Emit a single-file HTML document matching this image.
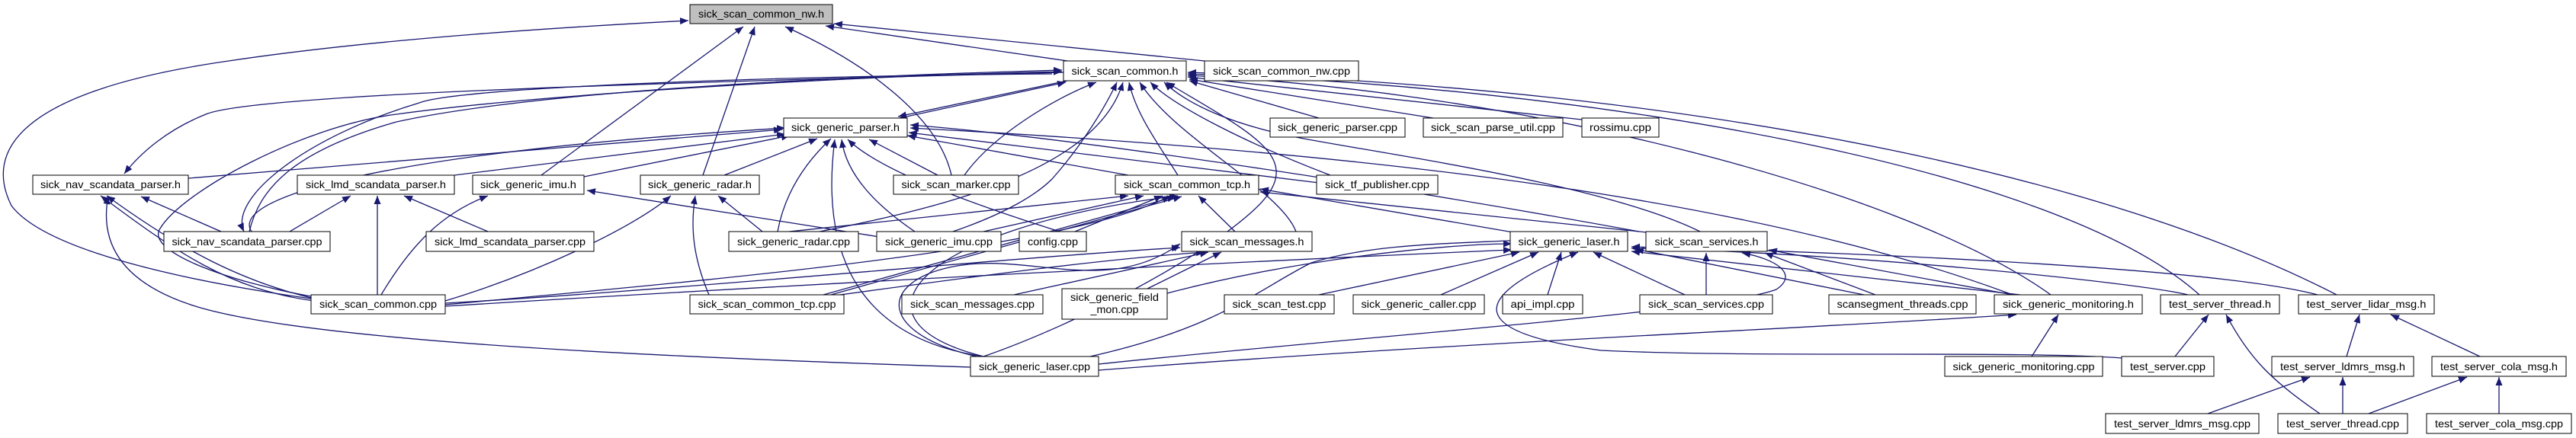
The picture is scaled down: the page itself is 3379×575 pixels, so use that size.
<!DOCTYPE html>
<html><head><meta charset="utf-8"><style>
html,body{margin:0;padding:0;background:#fff;}
svg{display:block;}
text{font-family:"Liberation Sans",sans-serif;font-size:14px;fill:#000;}
.e{fill:none;stroke:#191970;stroke-width:1.3;marker-end:url(#a);}
.n{fill:#fff;stroke:#000;stroke-width:1;}
.s{fill:none;stroke:#666;stroke-width:1;}
</style></head><body>
<svg width="3379" height="575" viewBox="0 0 3379 575" xmlns="http://www.w3.org/2000/svg">
<defs><marker id="a" markerUnits="userSpaceOnUse" markerWidth="12" markerHeight="10" refX="11" refY="4.5" orient="auto"><path d="M0,0 L11,4.5 L0,9 z" fill="#191970"/></marker></defs>

<!-- edges into nw.h -->
<path class="e" d="M408,392 C250,370 60,330 15,270 C-20,200 20,120 300,80 C500,50 750,35 903,27"/>
<path class="e" d="M710,230 L975,35"/>
<path class="e" d="M922,230 L990,35"/>
<path class="e" d="M1248,230 C1230,150 1130,80 1030,35"/>
<path class="e" d="M1400,80 L1083,34"/>
<path class="e" d="M1580,80 L1094,31"/>

<!-- common.h edges -->
<path class="e" d="M1395,95 C800,110 330,125 270,150 C220,170 185,200 163,228"/>
<path class="e" d="M327,304 C340,250 380,200 520,160 C700,120 1100,100 1393,92"/>
<path class="e" d="M408,389 C300,370 190,330 210,300 C240,250 400,165 520,150 C700,125 1100,100 1393,94"/>
<path class="e" d="M1180,155 L1398,108"/>
<path class="e" d="M1400,106 L1178,153"/>
<path class="e" d="M1265,230 C1300,180 1380,130 1438,108"/>
<path class="e" d="M1250,304 C1320,280 1360,255 1380,235 C1420,190 1450,140 1465,108"/>
<path class="e" d="M1075,304 C1250,270 1440,220 1473,108"/>
<path class="e" d="M1545,230 C1520,190 1490,150 1481,108"/>
<path class="e" d="M1700,304 C1680,250 1540,180 1495,108"/>
<path class="e" d="M1745,230 C1640,190 1540,140 1509,108"/>
<path class="e" d="M2230,304 C2100,240 1800,200 1700,180 C1600,160 1550,130 1527,108"/>
<path class="e" d="M1730,155 L1560,106"/>
<path class="e" d="M1880,155 L1560,104"/>
<path class="e" d="M2075,157 L1558,101"/>
<path class="e" d="M2690,387 C2500,250 2000,120 1558,99"/>
<path class="e" d="M2885,387 C2700,220 2100,115 1558,97"/>
<path class="e" d="M3065,387 C2800,250 2300,120 1558,95"/>
<path class="e" d="M1290,468 C1400,430 1560,350 1640,280 C1720,210 1650,180 1530,108"/>
<path class="e" d="M1380,97 C1000,100 600,115 550,135 C400,180 300,260 320,304"/>

<!-- parser.h edges -->
<path class="e" d="M247,234 L1026,170"/>
<path class="e" d="M596,230 L1030,176"/>
<path class="e" d="M766,232 L1036,178"/>
<path class="e" d="M950,230 L1072,182"/>
<path class="e" d="M1020,304 C1030,250 1060,210 1090,182"/>
<path class="e" d="M1200,304 C1150,270 1110,230 1104,183"/>
<path class="e" d="M1230,230 L1140,183"/>
<path class="e" d="M1480,230 L1190,178"/>
<path class="e" d="M1290,468 C1100,440 1080,300 1095,183"/>
<path class="e" d="M1390,304 C1250,260 1150,220 1112,183"/>
<path class="e" d="M1730,240 L1192,174"/>
<path class="e" d="M2640,387 C2300,260 1800,200 1194,168"/>
<path class="e" d="M2150,304 C1800,240 1400,180 1194,164"/>
<path class="e" d="M330,304 C300,260 500,200 1030,168"/>

<!-- nav.h, lmd.h, imu.h, radar.h -->
<path class="e" d="M290,304 L185,258"/>
<path class="e" d="M412,392 C320,370 240,330 140,257"/>
<path class="e" d="M412,395 C300,380 230,330 132,257"/>
<path class="e" d="M1273,482 C900,470 400,450 250,400 C160,370 130,320 142,257"/>
<path class="e" d="M380,304 L460,257"/>
<path class="e" d="M495,387 L495,257"/>
<path class="e" d="M640,304 L530,257"/>
<path class="e" d="M500,387 C540,320 580,280 640,257"/>
<path class="e" d="M1160,312 L770,250"/>
<path class="e" d="M584,395 C700,360 830,300 880,257"/>
<path class="e" d="M930,387 C910,340 905,300 912,257"/>
<path class="e" d="M1000,304 L942,257"/>

<!-- tcp.h -->
<path class="e" d="M960,312 L1480,257"/>
<path class="e" d="M1290,304 L1500,257"/>
<path class="e" d="M1410,304 L1525,257"/>
<path class="e" d="M584,400 C900,370 1400,330 1535,257"/>
<path class="e" d="M1080,387 L1542,258"/>
<path class="e" d="M1090,387 L1550,258"/>
<path class="e" d="M1620,304 L1572,257"/>
<path class="e" d="M1290,468 C1100,420 1200,300 1545,257"/>
<path class="e" d="M1985,305 L1653,248"/>
<path class="e" d="M2160,305 L1653,252"/>

<!-- messages.h -->
<path class="e" d="M584,398 C900,380 1300,340 1548,325"/>
<path class="e" d="M1080,390 C1300,360 1450,340 1580,331"/>
<path class="e" d="M1330,387 L1585,331"/>
<path class="e" d="M1505,379 L1602,331"/>
<path class="e" d="M1290,470 C1150,440 1150,370 1250,350 C1350,330 1450,390 1548,320"/>

<!-- laser.h -->
<path class="e" d="M1730,387 L1993,331"/>
<path class="e" d="M1890,387 L2018,331"/>
<path class="e" d="M2030,387 L2048,331"/>
<path class="e" d="M2210,387 L2090,331"/>
<path class="e" d="M1430,468 C1600,430 1650,380 1720,345 C1800,320 1900,320 2000,315 C2040,312 2070,316 2063,331"/>
<path class="e" d="M2650,387 L2140,330"/>
<path class="e" d="M584,402 C1100,370 1700,340 1983,328"/>
<path class="e" d="M1531,385 C1700,340 1900,320 1983,320"/>
<path class="e" d="M2460,390 L2145,327"/>
<path class="e" d="M2870,387 C2800,370 2400,330 2140,326"/>
<path class="e" d="M3040,387 C2900,350 2400,330 2140,324"/>
<path class="e" d="M2783,470 C2650,460 2300,470 2100,460 C1950,440 1900,400 2070,331"/>

<!-- services.h -->
<path class="e" d="M2238,387 L2238,332"/>
<path class="e" d="M2460,387 L2315,332"/>
<path class="e" d="M2640,387 L2320,328"/>
<path class="e" d="M1441,478 C1800,440 2250,410 2330,380 C2360,360 2330,340 2285,332"/>

<!-- monitoring.h and below -->
<path class="e" d="M1441,486 C1900,450 2400,430 2645,413"/>
<path class="e" d="M2665,468 L2700,413"/>
<path class="e" d="M2853,468 L2897,413"/>
<path class="e" d="M3043,543 C2980,500 2950,470 2920,413"/>
<path class="e" d="M3078,468 L3095,413"/>
<path class="e" d="M3253,468 L3136,413"/>
<path class="e" d="M2896,543 L3030,495"/>
<path class="e" d="M3073,543 L3073,495"/>
<path class="e" d="M3107,543 L3236,495"/>
<path class="e" d="M3278,543 L3278,495"/>

<!-- nodes -->
<g>
<rect x="905" y="6" width="187" height="25" fill="#bfbfbf" stroke="#000"/>
<text x="998.5" y="23" text-anchor="middle" textLength="165" lengthAdjust="spacingAndGlyphs">sick_scan_common_nw.h</text>
</g>
<g id="nodes">
<rect class="n" x="1395" y="80" width="161" height="26"/><text x="1475.5" y="98" text-anchor="middle" textLength="140" lengthAdjust="spacingAndGlyphs">sick_scan_common.h</text>
<rect class="n" x="1580" y="80" width="202" height="26"/><text x="1681" y="98" text-anchor="middle" textLength="180" lengthAdjust="spacingAndGlyphs">sick_scan_common_nw.cpp</text>
<rect class="n" x="1028" y="155" width="162" height="25"/><text x="1109" y="172" text-anchor="middle" textLength="142" lengthAdjust="spacingAndGlyphs">sick_generic_parser.h</text>
<rect class="n" x="1666" y="155" width="177" height="25"/><text x="1754.5" y="172" text-anchor="middle" textLength="157" lengthAdjust="spacingAndGlyphs">sick_generic_parser.cpp</text>
<rect class="n" x="1867" y="155" width="183" height="25"/><text x="1958.5" y="172" text-anchor="middle" textLength="163" lengthAdjust="spacingAndGlyphs">sick_scan_parse_util.cpp</text>
<rect class="n" x="2075" y="155" width="101" height="25"/><text x="2125.5" y="172" text-anchor="middle" textLength="81" lengthAdjust="spacingAndGlyphs">rossimu.cpp</text>
<rect class="n" x="43" y="230" width="204" height="25"/><text x="145" y="247" text-anchor="middle" textLength="184" lengthAdjust="spacingAndGlyphs">sick_nav_scandata_parser.h</text>
<rect class="n" x="390" y="230" width="206" height="25"/><text x="493" y="247" text-anchor="middle" textLength="184" lengthAdjust="spacingAndGlyphs">sick_lmd_scandata_parser.h</text>
<rect class="n" x="620" y="230" width="146" height="25"/><text x="693" y="247" text-anchor="middle" textLength="126" lengthAdjust="spacingAndGlyphs">sick_generic_imu.h</text>
<rect class="n" x="840" y="230" width="156" height="25"/><text x="918" y="247" text-anchor="middle" textLength="136" lengthAdjust="spacingAndGlyphs">sick_generic_radar.h</text>
<rect class="n" x="1172" y="230" width="164" height="25"/><text x="1254" y="247" text-anchor="middle" textLength="143" lengthAdjust="spacingAndGlyphs">sick_scan_marker.cpp</text>
<rect class="n" x="1463" y="230" width="188" height="25"/><text x="1557" y="247" text-anchor="middle" textLength="166" lengthAdjust="spacingAndGlyphs">sick_scan_common_tcp.h</text>
<rect class="n" x="1727" y="230" width="159" height="25"/><text x="1806.5" y="247" text-anchor="middle" textLength="137" lengthAdjust="spacingAndGlyphs">sick_tf_publisher.cpp</text>
<rect class="n" x="215" y="304" width="218" height="26"/><text x="324" y="322" text-anchor="middle" textLength="197" lengthAdjust="spacingAndGlyphs">sick_nav_scandata_parser.cpp</text>
<rect class="n" x="559" y="304" width="220" height="26"/><text x="669" y="322" text-anchor="middle" textLength="198" lengthAdjust="spacingAndGlyphs">sick_lmd_scandata_parser.cpp</text>
<rect class="n" x="956" y="304" width="170" height="26"/><text x="1041" y="322" text-anchor="middle" textLength="148" lengthAdjust="spacingAndGlyphs">sick_generic_radar.cpp</text>
<rect class="n" x="1150" y="304" width="163" height="26"/><text x="1231.5" y="322" text-anchor="middle" textLength="141" lengthAdjust="spacingAndGlyphs">sick_generic_imu.cpp</text>
<rect class="n" x="1337" y="304" width="88" height="26"/><text x="1381" y="322" text-anchor="middle" textLength="66" lengthAdjust="spacingAndGlyphs">config.cpp</text>
<rect class="n" x="1550" y="304" width="171" height="26"/><text x="1635.5" y="322" text-anchor="middle" textLength="150" lengthAdjust="spacingAndGlyphs">sick_scan_messages.h</text>
<rect class="n" x="1981" y="304" width="154" height="26"/><text x="2058" y="322" text-anchor="middle" textLength="133" lengthAdjust="spacingAndGlyphs">sick_generic_laser.h</text>
<rect class="n" x="2159" y="304" width="159" height="26"/><text x="2238.5" y="322" text-anchor="middle" textLength="136" lengthAdjust="spacingAndGlyphs">sick_scan_services.h</text>
<rect class="n" x="408" y="387" width="176" height="25"/><text x="496" y="404" text-anchor="middle" textLength="154" lengthAdjust="spacingAndGlyphs">sick_scan_common.cpp</text>
<rect class="n" x="905" y="387" width="202" height="25"/><text x="1006" y="404" text-anchor="middle" textLength="181" lengthAdjust="spacingAndGlyphs">sick_scan_common_tcp.cpp</text>
<rect class="n" x="1183" y="387" width="185" height="25"/><text x="1275.5" y="404" text-anchor="middle" textLength="163" lengthAdjust="spacingAndGlyphs">sick_scan_messages.cpp</text>
<rect class="n" x="1393" y="379" width="138" height="40"/><text x="1462" y="395" text-anchor="middle" textLength="116" lengthAdjust="spacingAndGlyphs">sick_generic_field</text><text x="1462" y="411" text-anchor="middle" textLength="63" lengthAdjust="spacingAndGlyphs">_mon.cpp</text>
<rect class="n" x="1606" y="387" width="144" height="25"/><text x="1678" y="404" text-anchor="middle" textLength="123" lengthAdjust="spacingAndGlyphs">sick_scan_test.cpp</text>
<rect class="n" x="1775" y="387" width="172" height="25"/><text x="1861" y="404" text-anchor="middle" textLength="151" lengthAdjust="spacingAndGlyphs">sick_generic_caller.cpp</text>
<rect class="n" x="1971" y="387" width="105" height="25"/><text x="2023.5" y="404" text-anchor="middle" textLength="84" lengthAdjust="spacingAndGlyphs">api_impl.cpp</text>
<rect class="n" x="2151" y="387" width="174" height="25"/><text x="2238" y="404" text-anchor="middle" textLength="152" lengthAdjust="spacingAndGlyphs">sick_scan_services.cpp</text>
<rect class="n" x="2399" y="387" width="193" height="25"/><text x="2495.5" y="404" text-anchor="middle" textLength="172" lengthAdjust="spacingAndGlyphs">scansegment_threads.cpp</text>
<rect class="n" x="2616" y="387" width="194" height="25"/><text x="2713" y="404" text-anchor="middle" textLength="172" lengthAdjust="spacingAndGlyphs">sick_generic_monitoring.h</text>
<rect class="n" x="2834" y="387" width="156" height="25"/><text x="2912" y="404" text-anchor="middle" textLength="134" lengthAdjust="spacingAndGlyphs">test_server_thread.h</text>
<rect class="n" x="3015" y="387" width="178" height="25"/><text x="3104" y="404" text-anchor="middle" textLength="157" lengthAdjust="spacingAndGlyphs">test_server_lidar_msg.h</text>
<rect class="n" x="1273" y="468" width="168" height="26"/><text x="1357" y="486" text-anchor="middle" textLength="146" lengthAdjust="spacingAndGlyphs">sick_generic_laser.cpp</text>
<rect class="n" x="2551" y="468" width="207" height="26"/><text x="2654.5" y="486" text-anchor="middle" textLength="186" lengthAdjust="spacingAndGlyphs">sick_generic_monitoring.cpp</text>
<rect class="n" x="2783" y="468" width="121" height="26"/><text x="2843.5" y="486" text-anchor="middle" textLength="99" lengthAdjust="spacingAndGlyphs">test_server.cpp</text>
<rect class="n" x="2980" y="468" width="186" height="26"/><text x="3073" y="486" text-anchor="middle" textLength="164" lengthAdjust="spacingAndGlyphs">test_server_ldmrs_msg.h</text>
<rect class="n" x="3190" y="468" width="176" height="26"/><text x="3278" y="486" text-anchor="middle" textLength="154" lengthAdjust="spacingAndGlyphs">test_server_cola_msg.h</text>
<rect class="n" x="2762" y="543" width="201" height="26"/><text x="2862.5" y="561" text-anchor="middle" textLength="179" lengthAdjust="spacingAndGlyphs">test_server_ldmrs_msg.cpp</text>
<rect class="n" x="2988" y="543" width="170" height="26"/><text x="3073" y="561" text-anchor="middle" textLength="148" lengthAdjust="spacingAndGlyphs">test_server_thread.cpp</text>
<rect class="n" x="3183" y="543" width="190" height="26"/><text x="3278" y="561" text-anchor="middle" textLength="168" lengthAdjust="spacingAndGlyphs">test_server_cola_msg.cpp</text>
</g>
</svg>
</body></html>
